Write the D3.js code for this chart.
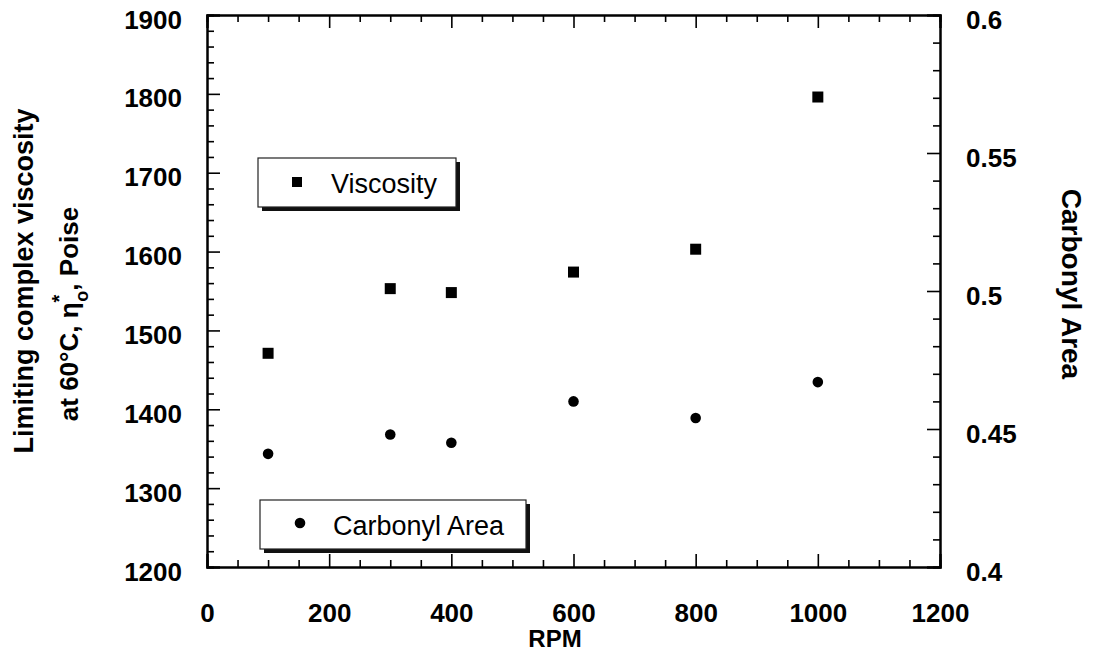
<!DOCTYPE html>
<html>
<head>
<meta charset="utf-8">
<script src="https://cdn.jsdelivr.net/npm/d3@7"></script>
<style>
  body { margin: 0; background: #fff; }
  svg { display: block; font-family: "Liberation Sans", Arial, sans-serif; }
  .axis path { stroke: #000; stroke-width: 2; }
  .axis line { stroke: #000; stroke-width: 1.6; }
  .axis text { font-size: 26px; font-weight: bold; fill: #000; }
</style>
</head>
<body>
<script>
    // data
    var rpm = [100, 300, 400, 600, 800, 1000];
    var viscosity = [1471, 1553, 1548, 1574, 1603, 1796];
    var carbonyl = [0.441, 0.448, 0.445, 0.460, 0.454, 0.467];

    var xTicks = [0, 200, 400, 600, 800, 1000, 1200];
    var leftTicks = [1200, 1300, 1400, 1500, 1600, 1700, 1800, 1900];
    var rightTicks = [0.4, 0.45, 0.5, 0.55, 0.6];

    window.onload = drawChart();

    function drawChart(){
        var width = 1093,
            height = 659;

        var svg = d3.select("body")
            .append("svg")
            .attr("width", width)
            .attr("height", height);

        //plot frame
        var left = 207, right = 940, top = 15, bottom = 567;

        var x = d3.scaleLinear().domain([0, 1200]).range([left, right]);
        var yL = d3.scaleLinear().domain([1200, 1900]).range([bottom, top]);
        var yR = d3.scaleLinear().domain([0.4, 0.6]).range([bottom, top]);

        //minor tick values
        var xMinor = d3.range(0, 1201, 50).filter(function(d){ return d % 200 !== 0; });
        var lMinor = d3.range(1200, 1901, 20).filter(function(d){ return d % 100 !== 0; });
        var rMinor = d3.range(40, 61, 1).map(function(d){ return d / 100; })
            .filter(function(d){ return Math.round(d * 100) % 5 !== 0; });

        //bottom axis
        svg.append("g").attr("class", "axis")
            .attr("transform", "translate(0," + bottom + ")")
            .call(d3.axisBottom(x).tickValues(xMinor).tickSize(-7).tickFormat(""));
        svg.append("g").attr("class", "axis")
            .attr("transform", "translate(0," + bottom + ")")
            .call(d3.axisBottom(x).tickValues(xTicks).tickSize(-13).tickPadding(37).tickFormat(d3.format("d")));

        //top axis
        svg.append("g").attr("class", "axis")
            .attr("transform", "translate(0," + top + ")")
            .call(d3.axisTop(x).tickValues(xMinor).tickSize(-7).tickFormat(""));
        svg.append("g").attr("class", "axis")
            .attr("transform", "translate(0," + top + ")")
            .call(d3.axisTop(x).tickValues(xTicks).tickSize(-13).tickFormat(""));

        //left axis
        svg.append("g").attr("class", "axis")
            .attr("transform", "translate(" + left + ",0)")
            .call(d3.axisLeft(yL).tickValues(lMinor).tickSize(-7).tickFormat(""));
        var la = svg.append("g").attr("class", "axis")
            .attr("transform", "translate(" + left + ",0)")
            .call(d3.axisLeft(yL).tickValues(leftTicks).tickSize(-13).tickPadding(25).tickFormat(d3.format("d")));
        la.selectAll("text").attr("dy", "0.5em");

        //right axis
        svg.append("g").attr("class", "axis")
            .attr("transform", "translate(" + right + ",0)")
            .call(d3.axisRight(yR).tickValues(rMinor).tickSize(-7).tickFormat(""));
        var ra = svg.append("g").attr("class", "axis")
            .attr("transform", "translate(" + right + ",0)")
            .call(d3.axisRight(yR).tickValues(rightTicks).tickSize(-13).tickPadding(26)
                .tickFormat(function(d){ return String(+d.toFixed(2)); }));
        ra.selectAll("text").attr("dy", "0.5em");

        //viscosity squares
        var sq = 11;
        svg.selectAll(".visc")
            .data(rpm)
            .enter()
            .append("rect")
            .attr("class", "visc")
            .attr("x", function(d){ return x(d) - sq / 2; })
            .attr("y", function(d, i){ return yL(viscosity[i]) - sq / 2; })
            .attr("width", sq)
            .attr("height", sq)
            .attr("fill", "#000");

        //carbonyl circles
        svg.selectAll(".carb")
            .data(rpm)
            .enter()
            .append("circle")
            .attr("class", "carb")
            .attr("cx", function(d){ return x(d); })
            .attr("cy", function(d, i){ return yR(carbonyl[i]); })
            .attr("r", 5.3)
            .attr("fill", "#000");

        //legend boxes
        function legendBox(x0, y0, w, h, label, shape){
            var g = svg.append("g");
            g.append("rect")
                .attr("x", x0 + 4).attr("y", y0 + 4)
                .attr("width", w).attr("height", h)
                .attr("fill", "#111");
            g.append("rect")
                .attr("x", x0).attr("y", y0)
                .attr("width", w).attr("height", h)
                .attr("fill", "#fff")
                .attr("stroke", "#222")
                .attr("stroke-width", 1.2);
            if (shape === "square"){
                g.append("rect")
                    .attr("x", x0 + 34).attr("y", y0 + 19)
                    .attr("width", 10).attr("height", 10)
                    .attr("fill", "#000");
            } else {
                g.append("circle")
                    .attr("cx", x0 + 40).attr("cy", y0 + 23)
                    .attr("r", 5.3)
                    .attr("fill", "#000");
            }
            g.append("text")
                .attr("x", x0 + 73)
                .attr("y", y0 + 35)
                .style("font-size", "27px")
                .text(label);
        }
        legendBox(258, 158, 198, 49, "Viscosity", "square");
        legendBox(260, 500, 266, 49, "Carbonyl Area", "circle");

        //axis titles
        svg.append("text")
            .attr("x", 555)
            .attr("y", 647)
            .attr("text-anchor", "middle")
            .style("font-size", "24px")
            .style("font-weight", "bold")
            .text("RPM");

        svg.append("text")
            .attr("transform", "translate(33,281) rotate(-90)")
            .attr("text-anchor", "middle")
            .style("font-size", "27px")
            .style("font-weight", "bold")
            .text("Limiting complex viscosity");

        var t2 = svg.append("text")
            .attr("transform", "translate(78,314) rotate(-90)")
            .attr("text-anchor", "middle")
            .style("font-size", "26px")
            .style("font-weight", "bold");
        t2.append("tspan").text("at 60\u00B0C, \u03B7");
        t2.append("tspan").attr("dy", -12).style("font-size", "20px").text("*");
        t2.append("tspan").attr("dx", -7).attr("dy", 22).style("font-size", "18px").text("o");
        t2.append("tspan").attr("dy", -10).text(", Poise");

        svg.append("text")
            .attr("transform", "translate(1062,284) rotate(90)")
            .attr("text-anchor", "middle")
            .style("font-size", "28px")
            .style("font-weight", "bold")
            .text("Carbonyl Area");
    }
</script>
</body>
</html>
